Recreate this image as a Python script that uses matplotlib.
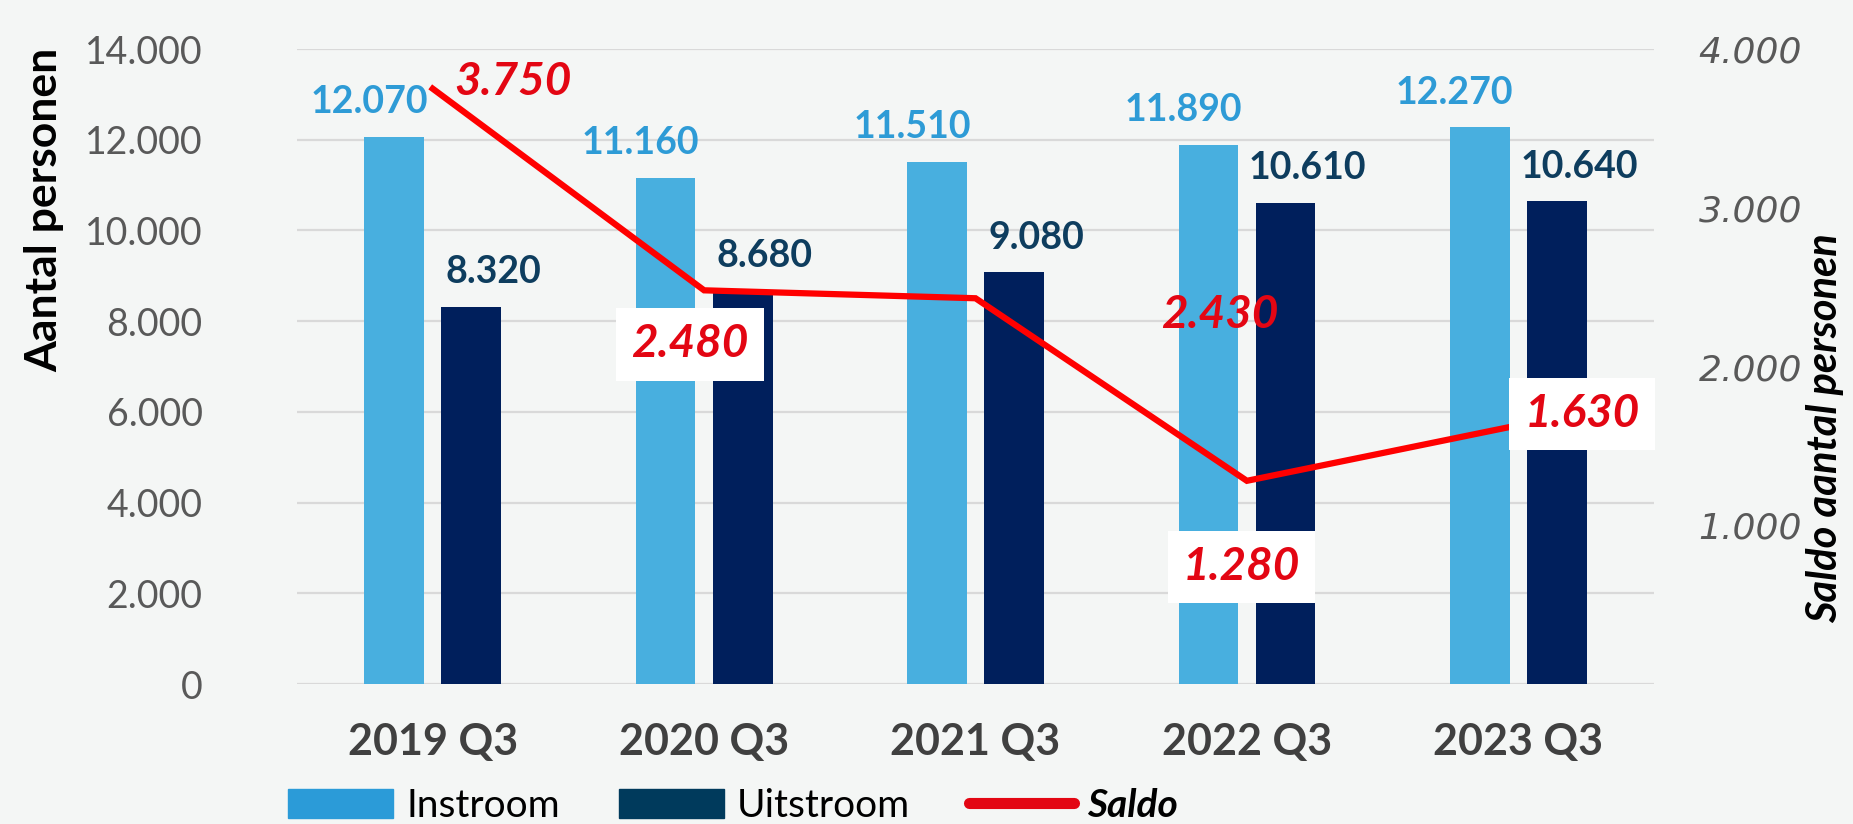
import matplotlib.pyplot as plt
from matplotlib.patches import Patch
from matplotlib.lines import Line2D
from matplotlib.ticker import FuncFormatter
import numpy as np

categories = ["2019 Q3", "2020 Q3", "2021 Q3", "2022 Q3", "2023 Q3"]
instroom = [12070, 11160, 11510, 11890, 12270]
uitstroom = [8320, 8680, 9080, 10610, 10640]
saldo = [3750, 2480, 2430, 1280, 1630]

bg = "#F4F6F5"
c_in = "#48AFDF"
c_uit = "#001F5C"
c_in_lbl = "#2E9BD6"
c_uit_lbl = "#0E3D5E"
c_red = "#FF0000"
c_red_lbl = "#E30613"
grey = "#595959"

plt.rcParams['font.family'] = ['Lato', 'DejaVu Sans']


def dot_fmt(v, pos=None):
    return f"{int(round(v)):,}".replace(",", ".")


fig = plt.figure(figsize=(18.53, 8.24), dpi=100, facecolor=bg)
ax = fig.add_axes([0.1603, 0.1699, 0.7323, 0.7706], facecolor=bg)

x = np.arange(len(categories))
w = 0.22
off = 0.142
ax.bar(x - off, instroom, w, color=c_in, zorder=2)
ax.bar(x + off, uitstroom, w, color=c_uit, zorder=2)

# value labels sit a bit outward from the bar centres, like the original
for xi, v in zip(x, instroom):
    ax.annotate(dot_fmt(v), (xi - off, v), xytext=(-18, 17), textcoords="offset points",
                ha="center", va="baseline", fontsize=27, fontweight="bold", color=c_in_lbl)
for xi, v in zip(x, uitstroom):
    ax.annotate(dot_fmt(v), (xi + off, v), xytext=(16, 17), textcoords="offset points",
                ha="center", va="baseline", fontsize=27, fontweight="bold", color=c_uit_lbl)

ax.set_xlim(-0.5, len(categories) - 0.5)
ax.set_ylim(0, 14000)
ax.set_yticks(np.arange(0, 14001, 2000))
ax.yaxis.set_major_formatter(FuncFormatter(dot_fmt))
ax.grid(axis="y", color="#D9D9D9", linewidth=1.6, zorder=0)
ax.set_axisbelow(True)
for s in ax.spines.values():
    s.set_visible(False)
ax.tick_params(axis="y", length=0, pad=68, labelsize=27, labelcolor=grey)
ax.tick_params(axis="x", length=0, pad=27, labelsize=31)
ax.set_xticks(x)
ax.set_xticklabels(categories, fontweight="bold", color="#404040")

ax2 = ax.twinx()
ax2.set_ylim(0, 4000)
ax2.set_yticks([1000, 2000, 3000, 4000])
ax2.yaxis.set_major_formatter(FuncFormatter(dot_fmt))
for s in ax2.spines.values():
    s.set_visible(False)
ax2.tick_params(axis="y", length=0, pad=32, labelsize=26, labelcolor=grey)
for t in ax2.get_yticklabels():
    t.set_fontstyle("italic")
    t.set_family("DejaVu Sans")

ax2.plot(x, saldo, color=c_red, linewidth=4.5, solid_joinstyle="miter", zorder=3)

# label offsets (points) and whether a white box is drawn
lbl_style = [((58, 5), False), ((-10, -39), True), ((176, -12), False),
             ((-4, -62), True), ((46, 8), True)]
for xi, v, ((dx, dy), boxed) in zip(x, saldo, lbl_style):
    bb = dict(boxstyle="square,pad=0.33", fc="white", ec="none") if boxed else None
    ax2.annotate(dot_fmt(v), (xi, v), xytext=(dx, dy), textcoords="offset points",
                 ha="center", va="center", fontsize=33, fontweight="bold",
                 fontstyle="italic", color=c_red_lbl, bbox=bb, zorder=4)

fig.text(0.0237, 0.745, "Aantal personen", rotation=90, ha="center", va="center",
         fontsize=32, fontweight="bold", color="black")
fig.text(0.985, 0.48, "Saldo aantal personen", rotation=90, ha="center", va="center",
         fontsize=30, fontweight="bold", fontstyle="italic", color="black")

handles = [Patch(color="#2B9BD8"), Patch(color="#003A5C"),
           Line2D([0], [0], color="#E30613", linewidth=8, solid_capstyle="round")]
leg = fig.legend(handles, ["Instroom", "Uitstroom", "Saldo"], loc="center left",
                 bbox_to_anchor=(0.147, 0.022), ncol=3, frameon=False, fontsize=28,
                 handlelength=2.7, handleheight=0.75, handletextpad=0.35,
                 columnspacing=1.5, borderaxespad=0)
texts = leg.get_texts()
for t in texts[:2]:
    t.set_color("black")
texts[2].set_fontweight("bold")
texts[2].set_fontstyle("italic")

fig.savefig("out.png", dpi=100, facecolor=bg)
